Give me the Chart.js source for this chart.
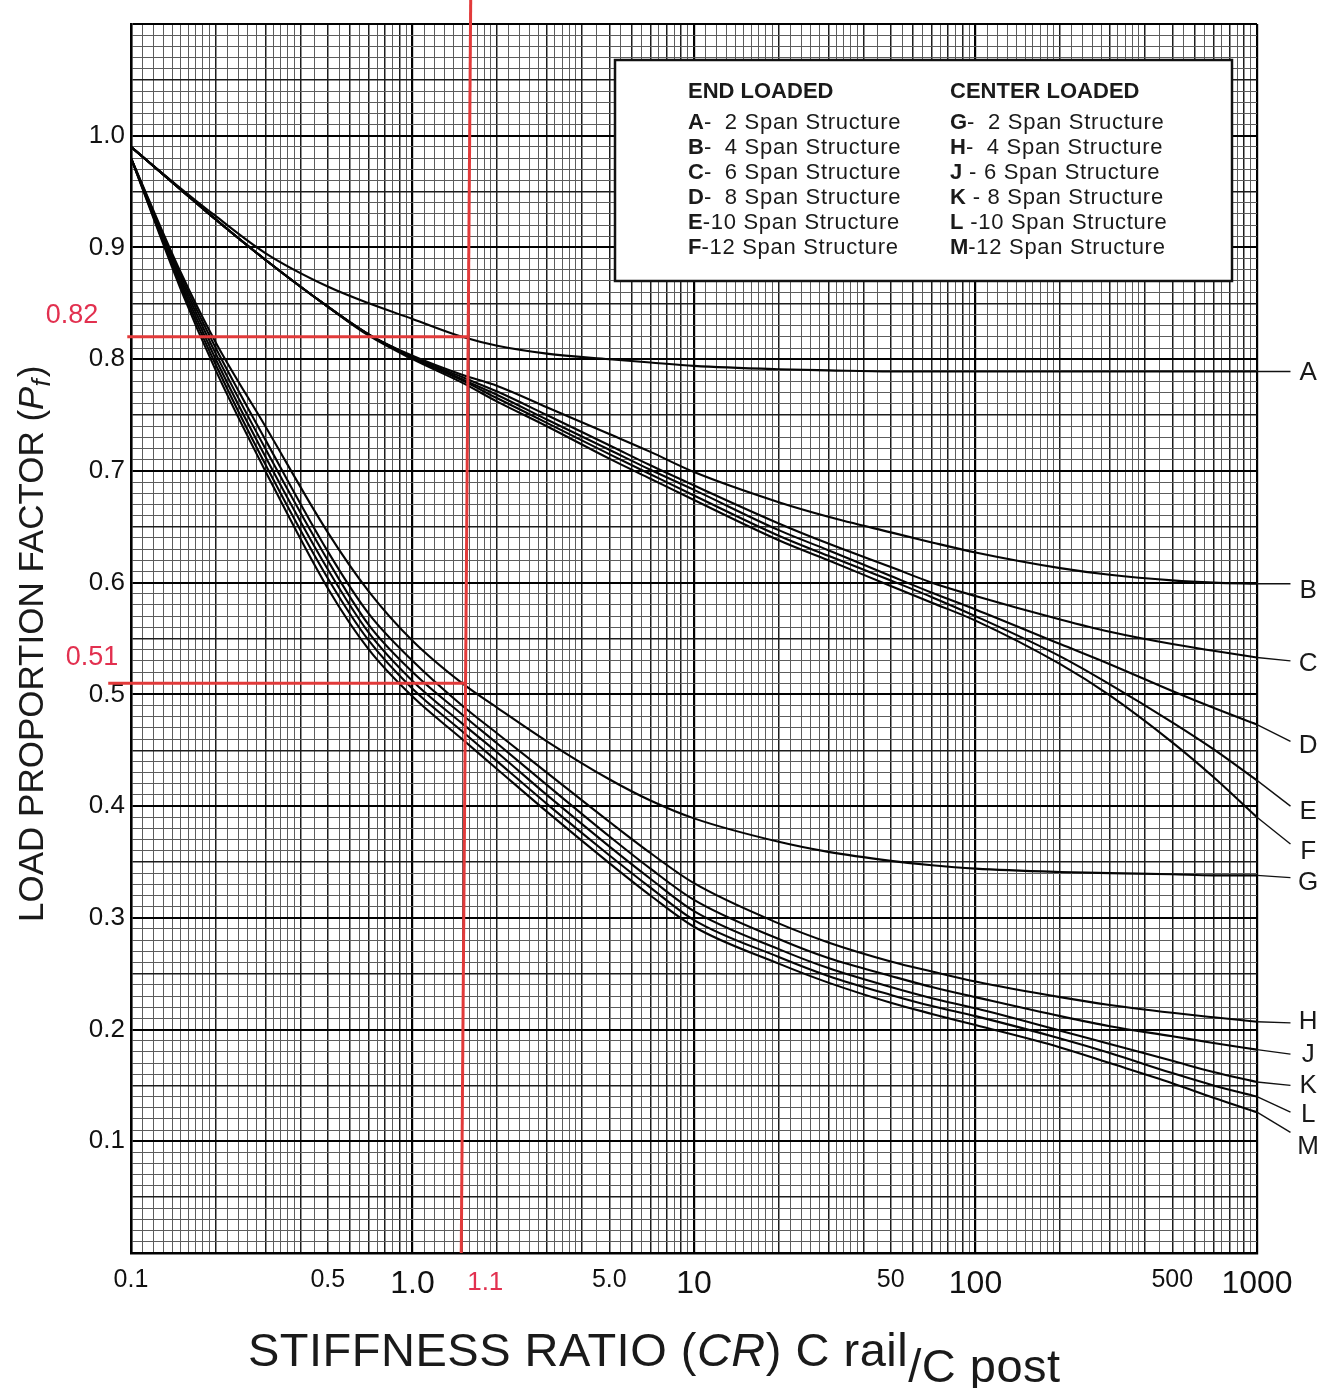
<!DOCTYPE html>
<html>
<head>
<meta charset="utf-8">
<script src="https://cdn.jsdelivr.net/npm/chart.js@4.4.1/dist/chart.umd.min.js"></script>
<style>
  html, body { margin: 0; padding: 0; background: #fff; }
</style>
</head>
<body>
<canvas id="curves" width="1335" height="1388"></canvas>
<script>
// stiffness ratio samples
const stiffness = [0.1, 0.15, 0.2, 0.3, 0.5, 0.7, 1, 1.5, 2, 3, 5, 7, 10, 20, 30, 50, 70, 100, 200, 300, 500, 700, 1000];

// end loaded
const curveA = [0.99, 0.953, 0.928, 0.895, 0.865, 0.850, 0.836, 0.820, 0.812, 0.805, 0.800, 0.797, 0.794, 0.791, 0.790, 0.789, 0.789, 0.789, 0.789, 0.789, 0.789, 0.789, 0.789];
const curveB = [0.99, 0.952, 0.925, 0.889, 0.847, 0.822, 0.803, 0.786, 0.776, 0.757, 0.733, 0.717, 0.699, 0.672, 0.659, 0.645, 0.636, 0.627, 0.613, 0.607, 0.602, 0.600, 0.599];
const curveC = [0.99, 0.952, 0.925, 0.889, 0.847, 0.822, 0.802, 0.784, 0.771, 0.750, 0.723, 0.705, 0.687, 0.653, 0.635, 0.614, 0.600, 0.588, 0.567, 0.556, 0.545, 0.539, 0.533];
const curveD = [0.99, 0.952, 0.925, 0.889, 0.847, 0.822, 0.802, 0.782, 0.768, 0.746, 0.719, 0.701, 0.683, 0.647, 0.629, 0.606, 0.591, 0.576, 0.545, 0.527, 0.503, 0.488, 0.473];
const curveE = [0.99, 0.952, 0.925, 0.889, 0.847, 0.822, 0.801, 0.781, 0.765, 0.743, 0.715, 0.697, 0.678, 0.642, 0.624, 0.602, 0.587, 0.570, 0.534, 0.509, 0.475, 0.451, 0.423];
const curveF = [0.99, 0.952, 0.925, 0.889, 0.847, 0.821, 0.800, 0.779, 0.762, 0.740, 0.711, 0.693, 0.674, 0.638, 0.620, 0.597, 0.582, 0.566, 0.527, 0.499, 0.457, 0.426, 0.390];

// center loaded
const curveG = [0.98, 0.878, 0.815, 0.74, 0.645, 0.592, 0.548, 0.51, 0.488, 0.458, 0.424, 0.405, 0.389, 0.368, 0.359, 0.351, 0.347, 0.344, 0.341, 0.340, 0.339, 0.338, 0.338];
const curveH = [0.98, 0.875, 0.81, 0.728, 0.628, 0.572, 0.53, 0.49, 0.465, 0.430, 0.386, 0.358, 0.331, 0.295, 0.278, 0.261, 0.252, 0.243, 0.229, 0.222, 0.215, 0.211, 0.207];
const curveJ = [0.98, 0.872, 0.805, 0.72, 0.62, 0.562, 0.52, 0.482, 0.456, 0.419, 0.373, 0.344, 0.316, 0.281, 0.264, 0.248, 0.238, 0.229, 0.212, 0.203, 0.194, 0.188, 0.182];
const curveK = [0.98, 0.869, 0.80, 0.713, 0.612, 0.555, 0.512, 0.474, 0.448, 0.41, 0.364, 0.335, 0.306, 0.272, 0.255, 0.238, 0.228, 0.219, 0.199, 0.187, 0.172, 0.162, 0.153];
const curveL = [0.98, 0.866, 0.795, 0.706, 0.604, 0.548, 0.505, 0.467, 0.44, 0.402, 0.356, 0.327, 0.298, 0.265, 0.248, 0.231, 0.221, 0.212, 0.192, 0.179, 0.161, 0.150, 0.140];
const curveM = [0.98, 0.863, 0.79, 0.70, 0.595, 0.54, 0.498, 0.46, 0.433, 0.395, 0.349, 0.32, 0.292, 0.259, 0.242, 0.224, 0.214, 0.204, 0.184, 0.170, 0.152, 0.139, 0.126];

const curveLetters = ['A', 'B', 'C', 'D', 'E', 'F', 'G', 'H', 'J', 'K', 'L', 'M'];
// little lead lines out to the letters on the right
const leadEndY = [0.789, 0.599, 0.530, 0.458, 0.400, 0.366, 0.336, 0.206, 0.178, 0.150, 0.126, 0.108];
const letterY = [0.788, 0.593, 0.527, 0.454, 0.395, 0.359, 0.331, 0.207, 0.177, 0.150, 0.124, 0.095];
const leadEndX = 1315;
const letterX = 1520;

// red hand annotation
const markRatio = [1.49, 1.61];      // vertical line, bottom / top
const markFactor = [0.82, 0.51];
const markFrom = [0.097, 0.083];
const markTo = [1.58, 1.54];

// tick labels
const xTickValues = [0.1, 0.5, 1, 5, 10, 50, 100, 500, 1000];
const xTickText = ['0.1', '0.5', '1.0', '5.0', '10', '50', '100', '500', '1000'];
const xBigText = ['1.0', '10', '100', '1000'];
const yTickValues = [0.1, 0.2, 0.3, 0.4, 0.5, 0.6, 0.7, 0.8, 0.9, 1.0];

const endLegend = ['A-\u20072 Span Structure', 'B-\u20074 Span Structure', 'C-\u20076 Span Structure',
  'D-\u20078 Span Structure', 'E-10 Span Structure', 'F-12 Span Structure'];
const centerLegend = ['G-\u20072 Span Structure', 'H-\u20074 Span Structure', 'J - 6 Span Structure',
  'K - 8 Span Structure', 'L -10 Span Structure', 'M-12 Span Structure'];

const FONT = '"Liberation Sans", Arial, Helvetica, sans-serif';
Chart.defaults.font.family = FONT;

// log paper grid
const mantissas = [];
for (let i = 10; i < 20; i++) mantissas.push(i / 10);
for (let i = 20; i < 40; i += 2) mantissas.push(i / 10);
for (let i = 40; i < 100; i += 5) mantissas.push(i / 10);
const xGrid = [];
[0.1, 1, 10, 100].forEach(base => mantissas.forEach(m => xGrid.push(Number((m * base).toPrecision(8)))));
xGrid.push(1000);
const yGrid = [];
for (let k = 0; k <= 110; k++) yGrid.push(k / 100);

function mantissa(v) {
  const m = v / Math.pow(10, Math.floor(Math.log10(v) + 1e-9));
  return Math.round(m * 100) / 100;
}
function xLabel(v) {
  const i = xTickValues.findIndex(t => Math.abs(t - v) / t < 1e-6);
  return i >= 0 ? xTickText[i] : '';
}
function yLabel(v) {
  const i = yTickValues.findIndex(t => Math.abs(t - v) < 1e-6);
  return i >= 0 ? yTickValues[i].toFixed(1) : '';
}

const curves = [curveA, curveB, curveC, curveD, curveE, curveF, curveG, curveH, curveJ, curveK, curveL, curveM];

const redLine = { borderColor: '#e23a3a', borderWidth: 3, pointRadius: 0, clip: false, tension: 0 };
const datasets = [
  Object.assign({ label: 'mark', data: [{ x: markRatio[0], y: 0 }, { x: markRatio[1], y: 1.125 }] }, redLine),
  Object.assign({ label: 'mark', data: [{ x: markFrom[0], y: markFactor[0] }, { x: markTo[0], y: markFactor[0] }] }, redLine),
  Object.assign({ label: 'mark', data: [{ x: markFrom[1], y: markFactor[1] }, { x: markTo[1], y: markFactor[1] }] }, redLine),
];
curves.forEach((c, i) => {
  datasets.push({
    label: curveLetters[i],
    data: stiffness.map((s, j) => ({ x: s, y: c[j] })),
    borderColor: '#050505',
    borderWidth: 2.1,
    pointRadius: 0,
    cubicInterpolationMode: 'monotone',
  });
  datasets.push({
    label: curveLetters[i] + ' lead',
    data: [{ x: 1000, y: c[c.length - 1] }, { x: leadEndX, y: leadEndY[i] }],
    borderColor: '#111',
    borderWidth: 1.4,
    pointRadius: 0,
    clip: false,
    tension: 0,
  });
});

const paperText = {
  id: 'paperText',
  afterDatasetsDraw(chart) {
    const { ctx, chartArea, scales: { x, y } } = chart;
    ctx.save();

    // legend box
    ctx.fillStyle = '#fff';
    ctx.fillRect(615, 60, 617, 221);
    ctx.strokeStyle = '#111';
    ctx.lineWidth = 2.5;
    ctx.strokeRect(615, 60, 617, 221);

    ctx.fillStyle = '#1a1a1a';
    ctx.textAlign = 'left';
    ctx.textBaseline = 'alphabetic';
    ctx.font = 'bold 22px ' + FONT;
    ctx.fillText('END LOADED', 688, 98);
    ctx.fillText('CENTER LOADED', 950, 98);
    [[endLegend, 688], [centerLegend, 950]].forEach(([rows, left]) => {
      rows.forEach((row, i) => {
        const by = 129 + i * 25;
        ctx.font = 'bold 22px ' + FONT;
        ctx.letterSpacing = '0px';
        ctx.fillText(row[0], left, by);
        const w = ctx.measureText(row[0]).width;
        ctx.font = '22px ' + FONT;
        ctx.letterSpacing = '0.7px';
        ctx.fillText(row.slice(1), left + w, by);
      });
    });
    ctx.letterSpacing = '0px';

    // curve letters
    ctx.font = '26px ' + FONT;
    ctx.textAlign = 'center';
    ctx.textBaseline = 'middle';
    curveLetters.forEach((l, i) => {
      ctx.fillText(l, x.getPixelForValue(letterX), y.getPixelForValue(letterY[i]));
    });

    // red notes
    ctx.fillStyle = '#e2304f';
    ctx.font = '27px ' + FONT;
    ctx.fillText('0.82', chartArea.left - 59, y.getPixelForValue(markFactor[0]) - 21);
    ctx.fillText('0.51', chartArea.left - 39, y.getPixelForValue(markFactor[1]) - 26);
    ctx.font = '26px ' + FONT;
    ctx.fillText('1.1', x.getPixelForValue(markRatio[0]) + 24, chartArea.bottom + 30);
    ctx.restore();
  },
  afterDraw(chart) {
    const { ctx } = chart;
    ctx.save();
    ctx.fillStyle = '#1a1a1a';
    ctx.textAlign = 'left';
    ctx.textBaseline = 'alphabetic';

    // x title
    let cx = 248;
    ctx.letterSpacing = '0.5px';
    const parts = [
      ['STIFFNESS RATIO (', '', 0], ['CR', 'italic ', 0], [') C rail', '', 0], ['/C post', '', 16],
    ];
    parts.forEach(([t, st, dy]) => {
      ctx.font = st + '47px ' + FONT;
      ctx.fillText(t, cx, 1366 + dy);
      cx += ctx.measureText(t).width;
    });
    ctx.letterSpacing = '0px';

    // y title
    ctx.translate(43, 922);
    ctx.rotate(-Math.PI / 2);
    let cy = 0;
    const yparts = [
      ['LOAD PROPORTION FACTOR (', '', 35, 0], ['P', 'italic ', 35, 0], ['f', 'italic ', 26, 7], [')', '', 35, 0],
    ];
    yparts.forEach(([t, st, sz, dy]) => {
      ctx.font = st + sz + 'px ' + FONT;
      ctx.fillText(t, cy, dy);
      cy += ctx.measureText(t).width + (t === 'f' ? 2 : 0);
    });
    ctx.restore();
  }
};

new Chart(document.getElementById('curves'), {
  type: 'line',
  data: { datasets },
  options: {
    responsive: false,
    animation: false,
    devicePixelRatio: 1,
    layout: { padding: { left: 0, right: 78, top: 24, bottom: 0 } },
    plugins: { legend: { display: false }, tooltip: { enabled: false } },
    scales: {
      x: {
        type: 'logarithmic',
        min: 0.1,
        max: 1000,
        afterBuildTicks: scale => { scale.ticks = xGrid.map(v => ({ value: v })); },
        afterFit: scale => { scale.height = 135; },
        ticks: {
          autoSkip: false,
          maxRotation: 0,
          minRotation: 0,
          padding: 12,
          color: '#111',
          callback: v => xLabel(v),
          font: ctx => {
            const t = ctx.tick ? xLabel(ctx.tick.value) : '';
            return { size: xBigText.includes(t) ? 32 : 25 };
          },
        },
        grid: {
          drawTicks: false,
          color: ctx => {
            if (!ctx.tick) return '#555';
            const m = mantissa(ctx.tick.value);
            return m === 1 ? '#000' : Number.isInteger(m) ? '#1c1c1c' : '#5c5c5c';
          },
          lineWidth: ctx => {
            if (!ctx.tick) return 1;
            const m = mantissa(ctx.tick.value);
            return m === 1 ? 2.2 : Number.isInteger(m) ? 1.5 : 1;
          },
        },
        border: { display: true, color: '#000', width: 2.5 },
      },
      y: {
        type: 'linear',
        min: 0,
        max: 1.1,
        afterBuildTicks: scale => { scale.ticks = yGrid.map(v => ({ value: v })); },
        afterFit: scale => { scale.width = 131; },
        ticks: {
          autoSkip: false,
          padding: 6,
          color: '#111',
          font: { size: 26 },
          callback: v => yLabel(v),
        },
        grid: {
          drawTicks: false,
          color: ctx => {
            if (!ctx.tick) return '#555';
            const k = Math.round(ctx.tick.value * 100);
            return k % 10 === 0 ? '#000' : k % 5 === 0 ? '#1c1c1c' : '#5c5c5c';
          },
          lineWidth: ctx => {
            if (!ctx.tick) return 1;
            const k = Math.round(ctx.tick.value * 100);
            return k % 10 === 0 ? 2 : k % 5 === 0 ? 1.4 : 1;
          },
        },
        border: { display: true, color: '#000', width: 2.5 },
      },
    },
  },
  plugins: [paperText],
});
</script>
</body>
</html>
